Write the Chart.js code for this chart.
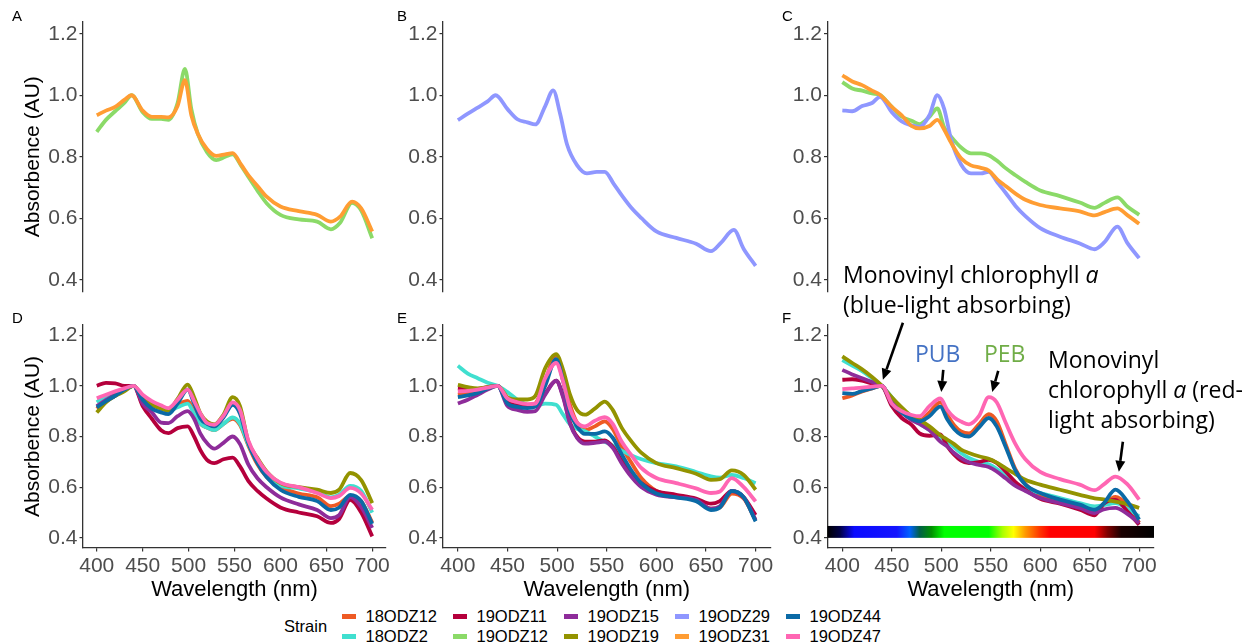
<!DOCTYPE html>
<html>
<head>
<meta charset="utf-8">
<title>Absorbance spectra by strain</title>
<script src="https://cdn.jsdelivr.net/npm/chart.js@4.4.1/dist/chart.umd.min.js"></script>
<style>
  html, body { margin: 0; padding: 0; background: #fff; }
  #fig { position: relative; width: 1253px; height: 642px; overflow: hidden;
         font-family: "Liberation Sans", Arial, Helvetica, sans-serif; }
  #fig canvas { position: absolute; }
  .tag { position: absolute; font-size: 15px; line-height: 15px; color: #000; }
  .note { position: absolute; font-family: "Open Sans", "Noto Sans", sans-serif; font-size: 23px;
          line-height: 30px; color: #000; white-space: nowrap; }
  .lg { position: absolute; font-size: 16.5px; line-height: 19px; color: #000; white-space: nowrap; }
  .key { position: absolute; width: 14px; height: 5px; }
</style>
</head>
<body>
<div id="fig"></div>
<script>
// ---------- data ----------
const STRAINS = ['18ODZ12', '18ODZ2', '19ODZ11', '19ODZ12', '19ODZ15',
                 '19ODZ19', '19ODZ29', '19ODZ31', '19ODZ44', '19ODZ47'];

const X_TICKS = [400, 450, 500, 550, 600, 650, 700];
const Y_TICKS = [0.4, 0.6, 0.8, 1.0, 1.2];

// wavelengths (nm) sampled for the upper and lower rows
const WL_TOP    = [400,410,420,430,438,450,460,470,478,488,496,503,510,520,530,540,548,557,565,575,585,600,620,640,655,665,678,688,700];
const WL_BOTTOM = [400,410,420,430,440,450,460,470,478,488,499,506,513,520,528,538,548,556,565,575,585,600,620,640,655,664,676,688,700];

// panel A
const A_19ODZ12 = [0.881,0.92,0.948,0.975,1.0,0.945,0.923,0.923,0.92,0.975,1.086,0.955,0.875,0.815,0.789,0.80,0.808,0.772,0.735,0.69,0.649,0.611,0.596,0.589,0.564,0.585,0.65,0.625,0.535];
const A_19ODZ31 = [0.935,0.95,0.962,0.985,1.0,0.95,0.93,0.93,0.928,0.965,1.049,0.935,0.875,0.825,0.803,0.808,0.812,0.775,0.74,0.705,0.67,0.638,0.623,0.611,0.589,0.605,0.654,0.632,0.557];
// panel B
const B_19ODZ29 = [0.919,0.94,0.96,0.98,1.0,0.955,0.922,0.912,0.905,0.965,1.016,0.94,0.84,0.773,0.746,0.751,0.751,0.712,0.675,0.633,0.60,0.557,0.536,0.517,0.493,0.52,0.562,0.50,0.445];
// panel C
const C_19ODZ12 = [1.043,1.022,1.015,1.006,1.001,0.962,0.93,0.917,0.906,0.93,0.957,0.895,0.865,0.83,0.811,0.811,0.805,0.785,0.763,0.74,0.718,0.69,0.672,0.651,0.634,0.65,0.668,0.638,0.611];
const C_19ODZ29 = [0.951,0.948,0.965,0.975,0.995,0.945,0.915,0.902,0.897,0.935,1.0,0.955,0.855,0.775,0.746,0.746,0.751,0.715,0.683,0.64,0.607,0.568,0.54,0.518,0.499,0.522,0.573,0.52,0.47];
const C_19ODZ31 = [1.065,1.045,1.033,1.015,1.002,0.962,0.935,0.90,0.892,0.90,0.92,0.888,0.845,0.795,0.772,0.764,0.755,0.725,0.705,0.68,0.66,0.643,0.632,0.622,0.609,0.62,0.632,0.61,0.582];
// panel D
const D_18ODZ12 = [0.91,0.94,0.96,0.985,1.0,0.955,0.935,0.918,0.905,0.925,0.94,0.90,0.85,0.835,0.825,0.85,0.87,0.845,0.765,0.69,0.64,0.60,0.575,0.56,0.525,0.535,0.565,0.545,0.46];
const D_18ODZ2  = [0.935,0.96,0.975,0.988,1.0,0.955,0.93,0.912,0.90,0.915,0.93,0.89,0.85,0.835,0.825,0.85,0.875,0.85,0.77,0.70,0.648,0.608,0.595,0.58,0.56,0.57,0.605,0.585,0.50];
const D_19ODZ11 = [1.0,1.012,1.01,1.0,1.0,0.92,0.87,0.825,0.813,0.833,0.84,0.80,0.745,0.708,0.695,0.71,0.717,0.682,0.625,0.585,0.555,0.52,0.50,0.485,0.459,0.475,0.55,0.50,0.406];
const D_19ODZ15 = [0.92,0.945,0.965,0.985,1.0,0.93,0.895,0.855,0.853,0.88,0.90,0.87,0.81,0.774,0.752,0.775,0.80,0.77,0.69,0.635,0.60,0.56,0.532,0.51,0.478,0.49,0.561,0.522,0.439];
const D_19ODZ19 = [0.895,0.935,0.96,0.978,1.0,0.955,0.925,0.91,0.902,0.948,1.005,0.955,0.89,0.859,0.848,0.886,0.955,0.92,0.78,0.715,0.662,0.616,0.60,0.59,0.577,0.59,0.656,0.628,0.537];
const D_19ODZ44 = [0.915,0.94,0.96,0.985,1.0,0.945,0.91,0.895,0.888,0.93,0.985,0.93,0.87,0.85,0.84,0.875,0.925,0.89,0.775,0.695,0.64,0.59,0.562,0.545,0.51,0.52,0.57,0.545,0.455];
const D_19ODZ47 = [0.951,0.965,0.978,0.99,1.0,0.965,0.94,0.923,0.912,0.945,0.985,0.94,0.89,0.853,0.846,0.882,0.935,0.905,0.785,0.712,0.66,0.618,0.60,0.577,0.557,0.565,0.597,0.575,0.511];
// panel E
const E_18ODZ12 = [0.965,0.97,0.978,0.99,1.0,0.94,0.928,0.922,0.93,1.02,1.12,1.03,0.925,0.855,0.825,0.84,0.86,0.83,0.76,0.695,0.635,0.585,0.565,0.55,0.515,0.52,0.575,0.555,0.47];
const E_18ODZ2  = [1.079,1.048,1.03,1.012,1.0,0.975,0.945,0.925,0.92,0.93,0.925,0.886,0.848,0.83,0.821,0.80,0.779,0.765,0.744,0.725,0.71,0.695,0.682,0.66,0.643,0.638,0.648,0.636,0.616];
const E_19ODZ11 = [0.99,0.988,0.988,0.995,1.0,0.935,0.922,0.917,0.92,0.97,1.02,0.96,0.855,0.80,0.78,0.78,0.785,0.76,0.705,0.655,0.615,0.585,0.57,0.555,0.535,0.545,0.585,0.56,0.49];
const E_19ODZ15 = [0.93,0.945,0.965,0.985,1.0,0.92,0.905,0.897,0.90,0.965,1.02,0.955,0.85,0.795,0.772,0.775,0.78,0.755,0.695,0.64,0.60,0.57,0.56,0.55,0.515,0.525,0.585,0.56,0.47];
const E_19ODZ19 = [1.004,0.995,0.99,0.995,1.0,0.955,0.946,0.946,0.96,1.07,1.125,1.063,0.965,0.905,0.886,0.91,0.938,0.905,0.835,0.78,0.735,0.695,0.675,0.653,0.629,0.632,0.666,0.648,0.59];
const E_19ODZ44 = [0.955,0.962,0.972,0.99,1.0,0.93,0.917,0.912,0.918,1.0,1.105,1.02,0.895,0.84,0.81,0.81,0.82,0.795,0.73,0.665,0.615,0.575,0.56,0.545,0.51,0.52,0.585,0.56,0.465];
const E_19ODZ47 = [0.978,0.98,0.985,0.993,1.0,0.95,0.935,0.928,0.93,1.03,1.09,1.017,0.91,0.855,0.84,0.862,0.876,0.85,0.78,0.725,0.675,0.636,0.616,0.595,0.577,0.583,0.636,0.60,0.544];
// panel F
const F_18ODZ12 = [0.951,0.962,0.978,0.99,1.0,0.93,0.895,0.875,0.865,0.895,0.935,0.886,0.845,0.82,0.812,0.848,0.888,0.86,0.77,0.67,0.612,0.57,0.546,0.524,0.498,0.53,0.562,0.53,0.459];
const F_18ODZ2  = [1.102,1.08,1.058,1.03,1.0,0.955,0.905,0.87,0.85,0.825,0.795,0.78,0.757,0.735,0.715,0.70,0.69,0.672,0.645,0.615,0.593,0.577,0.557,0.537,0.524,0.529,0.537,0.515,0.485];
const F_19ODZ11 = [1.024,1.026,1.02,1.01,1.0,0.92,0.873,0.846,0.812,0.803,0.808,0.762,0.728,0.705,0.695,0.699,0.708,0.696,0.662,0.62,0.59,0.554,0.535,0.511,0.489,0.535,0.55,0.505,0.452];
const F_19ODZ15 = [1.063,1.045,1.03,1.015,1.0,0.94,0.895,0.865,0.85,0.825,0.78,0.761,0.735,0.715,0.698,0.688,0.68,0.662,0.635,0.605,0.585,0.557,0.537,0.518,0.498,0.512,0.518,0.495,0.459];
const F_19ODZ19 = [1.116,1.09,1.065,1.035,1.0,0.955,0.915,0.88,0.865,0.84,0.805,0.788,0.77,0.748,0.735,0.722,0.712,0.697,0.675,0.652,0.629,0.61,0.59,0.57,0.556,0.552,0.543,0.533,0.518];
const F_19ODZ44 = [0.971,0.968,0.98,0.99,1.0,0.93,0.895,0.87,0.86,0.88,0.918,0.868,0.83,0.807,0.80,0.835,0.873,0.84,0.76,0.665,0.61,0.577,0.551,0.531,0.511,0.535,0.59,0.545,0.472];
const F_19ODZ47 = [0.987,0.99,0.993,0.997,1.0,0.93,0.90,0.885,0.88,0.92,0.95,0.905,0.875,0.859,0.848,0.88,0.955,0.935,0.855,0.77,0.71,0.66,0.632,0.61,0.588,0.61,0.642,0.612,0.551];

// ---------- styling ----------
const COLORS = {
  '18ODZ12': '#EE5A24', '18ODZ2': '#40DFCF', '19ODZ11': '#B5003C', '19ODZ12': '#8BDA68',
  '19ODZ15': '#8E2C9A', '19ODZ19': '#939300', '19ODZ29': '#8F97FF', '19ODZ31': '#FF9D33',
  '19ODZ44': '#0B6AA6', '19ODZ47': '#FF66B3'
};
const FONT = '"Liberation Sans", Arial, Helvetica, sans-serif';
const AXIS_GREY = '#333333';
const TICK_TEXT = '#4d4d4d';

// colour stops (nm) of the visible-spectrum strip in panel F
const SPECTRUM_STOPS = [
  [385,'#000000'],[398,'#00004a'],[412,'#0a0aff'],[455,'#1414ff'],[468,'#0060ff'],[478,'#006048'],
  [490,'#009000'],[503,'#00ff00'],[548,'#00ff00'],[562,'#aaff00'],[573,'#ffff00'],[585,'#ff9900'],
  [600,'#ff3300'],[610,'#ff0000'],[655,'#ff0000'],[668,'#800000'],[682,'#1a0000'],[715,'#000000']
];

// arrow tips (data units) with tail offsets in px
const CALLOUTS = [
  { x: 441,   y: 1.024, dx: 20, dy: -57 },
  { x: 500,   y: 0.976, dx: 2,  dy: -22 },
  { x: 551.5, y: 0.976, dx: 6,  dy: -21 },
  { x: 679.5, y: 0.661, dx: 4,  dy: -30 }
];

Chart.defaults.font.family = FONT;

const spectrumBar = {
  id: 'spectrumBar',
  beforeDatasetsDraw(chart, args, opts) {
    const { ctx, scales: { x, y } } = chart;
    const x0 = x.getPixelForValue(opts.from), x1 = x.getPixelForValue(opts.to);
    const yt = y.getPixelForValue(opts.high), yb = y.getPixelForValue(opts.low);
    const g = ctx.createLinearGradient(x0, 0, x1, 0);
    opts.stops.forEach(([nm, c]) => g.addColorStop((nm - opts.from) / (opts.to - opts.from), c));
    ctx.save();
    ctx.fillStyle = g;
    ctx.fillRect(x0, yt, x1 - x0, yb - yt);
    ctx.restore();
  }
};

const calloutArrows = {
  id: 'calloutArrows',
  afterDatasetsDraw(chart, args, opts) {
    const { ctx, scales: { x, y } } = chart;
    ctx.save();
    ctx.strokeStyle = '#000';
    ctx.fillStyle = '#000';
    ctx.lineWidth = 2.6;
    for (const a of opts.items) {
      const tx = x.getPixelForValue(a.x), ty = y.getPixelForValue(a.y);
      const sx = tx + a.dx, sy = ty + a.dy;
      const ang = Math.atan2(ty - sy, tx - sx);
      const head = 11, half = 5;
      const bx = tx - head * Math.cos(ang), by = ty - head * Math.sin(ang);
      ctx.beginPath(); ctx.moveTo(sx, sy); ctx.lineTo(bx, by); ctx.stroke();
      ctx.beginPath();
      ctx.moveTo(tx, ty);
      ctx.lineTo(bx + half * Math.sin(ang), by - half * Math.cos(ang));
      ctx.lineTo(bx - half * Math.sin(ang), by + half * Math.cos(ang));
      ctx.closePath(); ctx.fill();
    }
    ctx.restore();
  }
};

// ---------- panels ----------
const TOP = { top: 0, height: 310, padTop: 21.5, padBottom: 18, showX: false };
const BOT = { top: 300, height: 305, padTop: 25, padBottom: 0, showX: true };
const COLS = [
  { left: 0,   width: 400, padLeft: 16, padRight: 14,   yWidth: 67,   yTitle: true },
  { left: 400, width: 400, padLeft: 0,  padRight: 29.5, yWidth: 43,   yTitle: false },
  { left: 790, width: 463, padLeft: 0,  padRight: 99,   yWidth: 37.5, yTitle: false }
];

const PANELS = [
  { row: TOP, col: COLS[0], wl: WL_TOP, lines: { '19ODZ12': A_19ODZ12, '19ODZ31': A_19ODZ31 } },
  { row: TOP, col: COLS[1], wl: WL_TOP, lines: { '19ODZ29': B_19ODZ29 } },
  { row: TOP, col: COLS[2], wl: WL_TOP, lines: { '19ODZ12': C_19ODZ12, '19ODZ29': C_19ODZ29, '19ODZ31': C_19ODZ31 } },
  { row: BOT, col: COLS[0], wl: WL_BOTTOM, lines: { '18ODZ12': D_18ODZ12, '18ODZ2': D_18ODZ2, '19ODZ11': D_19ODZ11,
      '19ODZ15': D_19ODZ15, '19ODZ19': D_19ODZ19, '19ODZ44': D_19ODZ44, '19ODZ47': D_19ODZ47 } },
  { row: BOT, col: COLS[1], wl: WL_BOTTOM, lines: { '18ODZ12': E_18ODZ12, '18ODZ2': E_18ODZ2, '19ODZ11': E_19ODZ11,
      '19ODZ15': E_19ODZ15, '19ODZ19': E_19ODZ19, '19ODZ44': E_19ODZ44, '19ODZ47': E_19ODZ47 } },
  { row: BOT, col: COLS[2], wl: WL_BOTTOM, spectrum: true, lines: { '18ODZ12': F_18ODZ12, '18ODZ2': F_18ODZ2, '19ODZ11': F_19ODZ11,
      '19ODZ15': F_19ODZ15, '19ODZ19': F_19ODZ19, '19ODZ44': F_19ODZ44, '19ODZ47': F_19ODZ47 } }
];

const fig = document.getElementById('fig');

function axisCommon() {
  return {
    type: 'linear',
    grid: { drawOnChartArea: false, drawTicks: true, tickLength: 3.5, color: AXIS_GREY, lineWidth: 1.2 },
    border: { display: true, color: AXIS_GREY, width: 1.3 },
    ticks: { font: { size: 21, family: FONT }, color: TICK_TEXT, padding: 2, autoSkip: false, maxRotation: 0 }
  };
}

PANELS.forEach(p => {
  const cv = document.createElement('canvas');
  cv.width = p.col.width; cv.height = p.row.height;
  cv.style.left = p.col.left + 'px'; cv.style.top = p.row.top + 'px';
  fig.appendChild(cv);

  const datasets = Object.keys(p.lines).map(s => ({
    label: s,
    data: p.wl.map((w, i) => ({ x: w, y: p.lines[s][i] })),
    borderColor: COLORS[s],
    backgroundColor: COLORS[s],
    order: -STRAINS.indexOf(s)
  }));

  const xAxis = Object.assign(axisCommon(), {
    min: 385, max: 715, display: p.row.showX,
    afterBuildTicks: s => { s.ticks = X_TICKS.map(v => ({ value: v })); },
    afterFit: s => { s.height = p.row.showX ? 57 : 0; },
    title: { display: true, text: 'Wavelength (nm)', color: '#000',
             font: { size: 22, family: FONT }, padding: { top: 0, bottom: 2 } }
  });
  const yAxis = Object.assign(axisCommon(), {
    min: 0.36, max: 1.24,
    afterBuildTicks: s => { s.ticks = Y_TICKS.map(v => ({ value: v })); },
    afterFit: s => { s.width = p.col.yWidth; },
    title: { display: p.col.yTitle, text: 'Absorbence (AU)', color: '#000',
             font: { size: 21, family: FONT }, padding: { top: 5, bottom: 0 } }
  });
  yAxis.ticks = Object.assign({}, yAxis.ticks, { callback: v => Number(v).toFixed(1) });

  const cfg = {
    type: 'line',
    data: { datasets },
    options: {
      responsive: false, animation: false, devicePixelRatio: 1,
      layout: { padding: { left: p.col.padLeft, right: p.col.padRight, top: p.row.padTop, bottom: p.row.padBottom } },
      elements: { point: { radius: 0 }, line: { borderWidth: 3.8, cubicInterpolationMode: 'monotone',
                                                borderJoinStyle: 'round' } },
      plugins: {
        legend: { display: false }, tooltip: { enabled: false },
        spectrumBar: { from: 385, to: 715, low: 0.40, high: 0.447, stops: SPECTRUM_STOPS },
        calloutArrows: { items: CALLOUTS }
      },
      scales: { x: xAxis, y: yAxis }
    },
    plugins: p.spectrum ? [spectrumBar, calloutArrows] : []
  };
  new Chart(cv, cfg);
});

// ---------- panel letters ----------
[['A', 12, 8], ['B', 397, 8], ['C', 782, 8], ['D', 12, 310], ['E', 397, 310], ['F', 782, 310]].forEach(([t, x, y]) => {
  const d = document.createElement('div');
  d.className = 'tag'; d.textContent = t;
  d.style.left = x + 'px'; d.style.top = y + 'px';
  fig.appendChild(d);
});

// ---------- annotations ----------
function note(html, x, y, color) {
  const d = document.createElement('div');
  d.className = 'note'; d.innerHTML = html;
  d.style.left = x + 'px'; d.style.top = y + 'px';
  if (color) d.style.color = color;
  fig.appendChild(d);
}
note('Monovinyl chlorophyll <i>a</i><br>(blue-light absorbing)', 843, 259);
note('PUB', 915, 338, '#4472C4');
note('PEB', 984, 338, '#70AD47');
note('Monovinyl<br>chlorophyll <i>a</i> (red-<br>light absorbing)', 1048, 344);

// ---------- legend ----------
(function legend() {
  const t = document.createElement('div');
  t.className = 'lg'; t.textContent = 'Strain';
  t.style.left = '284px'; t.style.top = '616.5px';
  fig.appendChild(t);
  STRAINS.forEach((s, i) => {
    const col = Math.floor(i / 2), row = i % 2;
    const kx = 341.5 + col * 111, cy = row === 0 ? 616 : 636;
    const k = document.createElement('div');
    k.className = 'key'; k.style.background = COLORS[s];
    k.style.left = kx + 'px'; k.style.top = (cy - 2.5) + 'px';
    fig.appendChild(k);
    const l = document.createElement('div');
    l.className = 'lg'; l.textContent = s;
    l.style.left = (kx + 24) + 'px'; l.style.top = (cy - 9.5) + 'px';
    fig.appendChild(l);
  });
})();
</script>
</body>
</html>
